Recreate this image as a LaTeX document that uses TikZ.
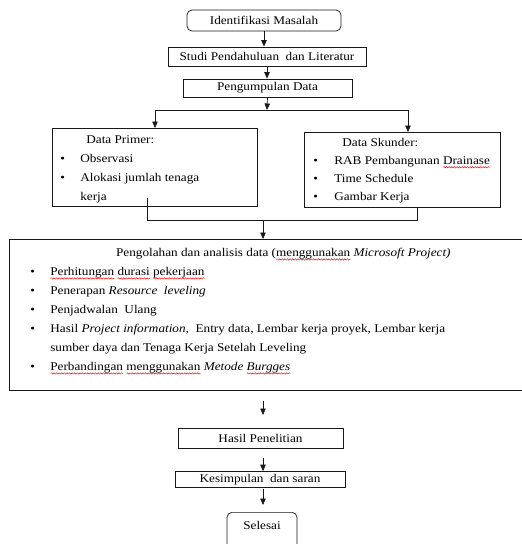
\documentclass[tikz,border=0pt]{standalone}
\usepackage{fontspec}
\setmainfont{Liberation Serif}[FakeStretch=1.12]
\usetikzlibrary{arrows.meta,decorations.pathmorphing}
\newsavebox\kata
\newcommand\salah[1]{\sbox\kata{#1}\leavevmode\rlap{\tikz[baseline=0pt, x=1pt, y=1pt]\draw[red, line width=0.45pt, decorate, decoration={snake, amplitude=0.7pt, segment length=2.6pt}] (0,-2.8) -- (\the\wd\kata,-2.8);}\usebox\kata}

\begin{document}
\begin{tikzpicture}[x=1pt, y=-1pt,
		kotak/.style={draw=black!90, line width=0.7pt, inner sep=0pt, font=\fontsize{11.8}{19}\selectfont},
		ujung/.style={kotak, rounded corners=5pt},
		daftar/.style={kotak, anchor=north west},
		garis/.style={draw=black!90, line width=0.7pt},
		panah/.style={garis, -{Triangle[length=6.5pt,width=5.5pt]}}]
			%%%%% START %%%%%
			\clip (0,0) rectangle (522,544);
			
			\node[ujung, minimum width=154, minimum height=21] (identifikasi) at (264,20.5) {Identifikasi Masalah};
			\node[kotak, minimum width=198, minimum height=19] (studi) at (267,56.5) {Studi Pendahuluan\ \ dan Literatur};
			\node[kotak, minimum width=169, minimum height=18] (pengumpulan) at (267.5,88) {Pengumpulan Data};
			
			\draw[panah] (identifikasi.south) -- (identifikasi.south |- studi.north);
			\draw[panah] (studi.south) -- (studi.south |- pengumpulan.north);
			
			\node[daftar, inner xsep=8, inner ysep=0] (primer) at (52,128) {%
				\begin{tabular}{@{}p{20pt}@{}p{169pt}@{}}
					\multicolumn{2}{@{}l@{}}{\rule{0pt}{15.5pt}\hspace*{26pt}Data Primer:}\\
					\textbullet & Observasi\\
					\textbullet & Alokasi jumlah tenaga\\
					& kerja
				\end{tabular}};
			\node[daftar, inner xsep=9, inner ysep=1.5, font=\fontsize{11.8}{18}\selectfont] (skunder) at (304,132) {%
				\begin{tabular}{@{}p{21pt}@{}p{157pt}@{}}
					\multicolumn{2}{@{}l@{}}{\hspace*{29pt}Data Skunder:}\\
					\textbullet & \leavevmode\rlap{RAB Pembangunan \salah{Drainase}}\\
					\textbullet & Time Schedule\\
					\textbullet & Gambar Kerja
				\end{tabular}};
			
			\coordinate (pisah) at (267,110);
			\coordinate (pisahKiri) at (155,110);
			\coordinate (pisahKanan) at (408,110);
			\draw[panah] (pengumpulan.south) -- (pisah);
			\draw[garis] (pisahKiri) -- (pisahKanan);
			\draw[panah] (pisahKiri) -- (pisahKiri |- primer.north);
			\draw[panah] (pisahKanan) -- (pisahKanan |- skunder.north);
			
			\node[daftar, inner xsep=21, inner ysep=4] (olah) at (9,239) {%
				\begin{tabular}{@{}p{20pt}@{}p{486pt}@{}}
					\multicolumn{2}{@{}c@{}}{Pengolahan dan analisis data (\salah{menggunakan} \textit{Microsoft Project)}}\\
					\textbullet & \salah{Perhitungan} \salah{durasi} \salah{pekerjaan}\\
					\textbullet & Penerapan \textit{Resource\ \ leveling}\\
					\textbullet & Penjadwalan\ \ Ulang\\
					\textbullet & Hasil \textit{Project information,}\ \ Entry data, Lembar kerja proyek, Lembar kerja\\
					& sumber daya dan Tenaga Kerja Setelah Leveling\\
					\textbullet & \salah{Perbandingan} \salah{menggunakan} \textit{Metode \salah{Burgges}}\\[10pt]
				\end{tabular}};
			
			\coordinate (ujungKiri) at (147,198);
			\coordinate (gabungKiri) at (147,220);
			\coordinate (gabungKanan) at (417,220);
			\coordinate (gabung) at (263,220);
			\draw[garis] (ujungKiri) -- (gabungKiri) -- (gabungKanan) -- (gabungKanan |- skunder.south);
			\draw[panah] (gabung) -- (gabung |- olah.north);
			
			\node[kotak, minimum width=165, minimum height=20] (hasil) at (260.5,438) {Hasil Penelitian};
			\node[kotak, minimum width=170, minimum height=16] (kesimpulan) at (260,479.5) {Kesimpulan\ \ dan saran};
			\node[ujung, anchor=north, minimum width=70, inner ysep=4, text height=13, text depth=20] (selesai) at (262,512) {Selesai};
			
			\coordinate (panahA) at (263,401);
			\coordinate (panahAa) at (263,415);
			\coordinate (panahB) at (263,458);
			\coordinate (panahC) at (263,489);
			\coordinate (panahCc) at (263,505);
			\draw[panah] (panahA) -- (panahAa);
			\draw[panah] (panahB) -- (panahB |- kesimpulan.north);
			\draw[panah] (panahC) -- (panahCc);
			%%%%% END %%%%%
		\end{tikzpicture}
\end{document}
